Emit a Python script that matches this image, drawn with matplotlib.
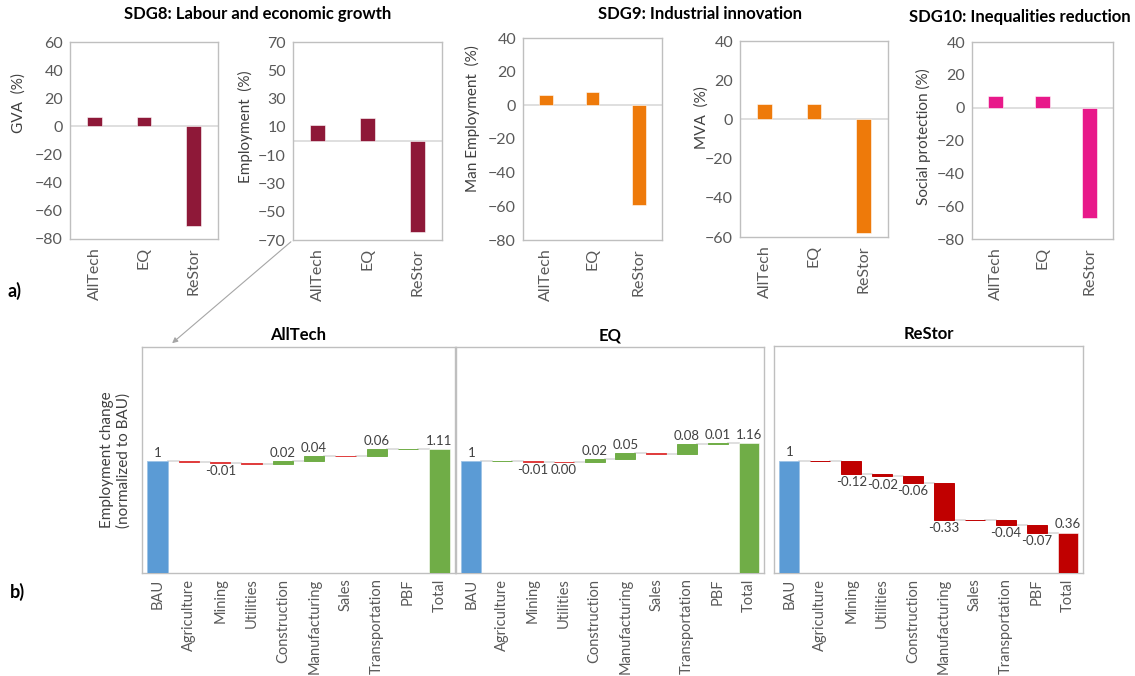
import numpy as np
import matplotlib
matplotlib.use("Agg")
import matplotlib.pyplot as plt
from matplotlib.patches import FancyArrowPatch

plt.rcParams['font.family'] = ['Lato', 'DejaVu Sans']

# Escenarios y cambios en % respecto a BAU (panel a)
scenarios = ["AllTech", "EQ", "ReStor"]
gva = [7, 7, -71]
employment = [11, 16, -64]
man_employment = [6, 8, -59]
mva = [8, 8, -58]
social_protection = [7, 7, -67]

# Cascada de empleo por sector (panel b), normalizado a BAU
sectors = ["Agriculture", "Mining", "Utilities", "Construction", "Manufacturing",
           "Sales", "Transportation", "PBF"]
bau = 1
steps_alltech = [-0.004, -0.012, -0.006, 0.024, 0.044, -0.004, 0.064, 0.002]
steps_eq = [0.004, -0.008, -0.003, 0.024, 0.054, -0.004, 0.084, 0.009]
steps_restor = [-0.003, -0.117, -0.02, -0.058, -0.328, -0.004, -0.042, -0.068]
# sectores con etiqueta de valor
labeled_alltech = ["Mining", "Construction", "Manufacturing", "Transportation"]
labeled_eq = ["Mining", "Utilities", "Construction", "Manufacturing", "Transportation", "PBF"]
labeled_restor = ["Mining", "Utilities", "Construction", "Manufacturing", "Transportation", "PBF"]

W, H = 1135, 676
fig = plt.figure(figsize=(W / 100, H / 100), dpi=100)


def px_axes(x0, y0, x1, y1):
    return fig.add_axes([x0 / W, 1 - y1 / H, (x1 - x0) / W, (y1 - y0) / H])


def style_box(ax):
    for s in ax.spines.values():
        s.set_color("#BFBFBF")
        s.set_linewidth(1)
    ax.tick_params(length=0, colors="#595959")


def bar_panel(rect, values, color, ylim, label, label_y, label_x):
    ax = px_axes(*rect)
    x = np.arange(len(scenarios))
    ax.bar(x, values, width=0.3, color=color, edgecolor="white", linewidth=0.4, zorder=3)
    ax.axhline(0, color="#D9D9D9", lw=1.2, zorder=2)
    ax.set_xlim(-0.5, 2.5)
    ax.set_ylim(*ylim)
    ax.set_yticks(np.arange(ylim[0], ylim[1] + 1, 20))
    ax.set_xticks(x)
    ax.set_xticklabels(scenarios, rotation=90, fontsize=11.5, color="#404040")
    ax.tick_params(axis="y", labelsize=11.5, pad=5)
    ax.tick_params(axis="x", pad=6)
    ax.set_ylabel(label, fontsize=11, color="#404040")
    ax.yaxis.set_label_coords(label_x, label_y)
    style_box(ax)
    return ax


maroon = "#8E1838"
orange = "#EE7A0A"
pink = "#E8198A"

bar_panel((70, 42, 218, 239), gva, maroon, (-80, 60), "GVA  (%)", 0.69, -0.30)
bar_panel((293, 42, 442, 240), employment, maroon, (-70, 70), "Employment  (%)", 0.57, -0.27)
bar_panel((523, 38, 662, 240), man_employment, orange, (-80, 40), "Man Employment  (%)", 0.60, -0.31)
bar_panel((740, 41, 888, 237), mva, orange, (-60, 40), "MVA  (%)", 0.61, -0.21)
bar_panel((972, 42, 1113, 239), social_protection, pink, (-80, 40), "Social protection (%)", 0.52, -0.29)

fig.text(258 / W, 1 - 14 / H, "SDG8: Labour and economic growth", ha="center", va="center",
         fontsize=12, fontweight="bold")
fig.text(700 / W, 1 - 14 / H, "SDG9: Industrial innovation", ha="center", va="center",
         fontsize=12, fontweight="bold")
fig.text(1020 / W, 1 - 17 / H, "SDG10: Inequalities reduction", ha="center", va="center",
         fontsize=12, fontweight="bold")
fig.text(14 / W, 1 - 291 / H, "a)", ha="center", va="center", fontsize=13, fontweight="bold")
fig.text(17 / W, 1 - 592 / H, "b)", ha="center", va="center", fontsize=13, fontweight="bold")


def fmt(v):
    s = f"{v:.2f}"
    return "0.00" if s == "-0.00" else s


def waterfall(rect, title, steps, labeled, neg_color, show_ylabel=False):
    ax = px_axes(*rect)
    cats = ["BAU"] + sectors + ["Total"]
    x = np.arange(len(cats))
    w = 0.65
    level = bau
    levels = [bau]
    ax.bar(0, bau, width=w, color="#5B9BD5", edgecolor="#9DC3E6", linewidth=0.6, zorder=3)
    ax.text(0, bau + 0.02, f"{bau:g}", ha="center", va="bottom", fontsize=9.5, color="#404040")
    for i, (name, v) in enumerate(zip(sectors, steps), start=1):
        lo = min(level, level + v)
        col = "#70AD47" if v >= 0 else neg_color
        ax.bar(i, abs(v), bottom=lo, width=w, color=col, edgecolor=col, linewidth=0.7, zorder=3)
        if name in labeled:
            if v >= 0:
                ax.text(i, level + v + 0.02, fmt(v), ha="center", va="bottom", fontsize=9.5, color="#404040")
            else:
                ax.text(i, level + v - 0.02, fmt(v), ha="center", va="top", fontsize=9.5, color="#404040")
        level += v
        levels.append(level)
    total = level
    tcol = "#70AD47" if total >= bau else neg_color
    ax.bar(len(cats) - 1, total, width=w, color=tcol, edgecolor="white", linewidth=0.4, zorder=3)
    ax.text(len(cats) - 1, total + 0.02, fmt(total), ha="center", va="bottom", fontsize=9.5, color="#404040")
    # líneas de conexión entre barras
    for i, lv in enumerate(levels):
        ax.plot([i + w / 2, i + 1 - w / 2], [lv, lv], color="#D9D9D9", lw=1.2, zorder=2)
    ax.set_xlim(-0.5, len(cats) - 0.5)
    ax.set_ylim(0, 2.02)
    ax.set_yticks([])
    ax.set_xticks(x)
    ax.set_xticklabels(cats, rotation=90, fontsize=10.5, color="#262626")
    style_box(ax)
    ax.tick_params(axis="x", pad=4)
    ax.set_title(title, fontsize=12, fontweight="bold", pad=5)
    if show_ylabel:
        ax.set_ylabel("Employment change\n(normalized to BAU)", fontsize=11, color="#404040", labelpad=8)
    return ax


waterfall((142, 347, 455, 573), "AllTech", steps_alltech, labeled_alltech, "#E03C3C", True)
waterfall((456, 347, 764, 573), "EQ", steps_eq, labeled_eq, "#E03C3C")
waterfall((774, 346, 1083, 573), "ReStor", steps_restor, labeled_restor, "#C00000")

# flecha desde el panel de empleo hacia la cascada
arrow = FancyArrowPatch((293 / W, 1 - 240 / H), (170 / W, 1 - 345 / H), transform=fig.transFigure,
                        arrowstyle="-|>", mutation_scale=8, color="#A6A6A6", lw=0.8)
fig.patches.append(arrow)

fig.savefig("out.png", dpi=100)
